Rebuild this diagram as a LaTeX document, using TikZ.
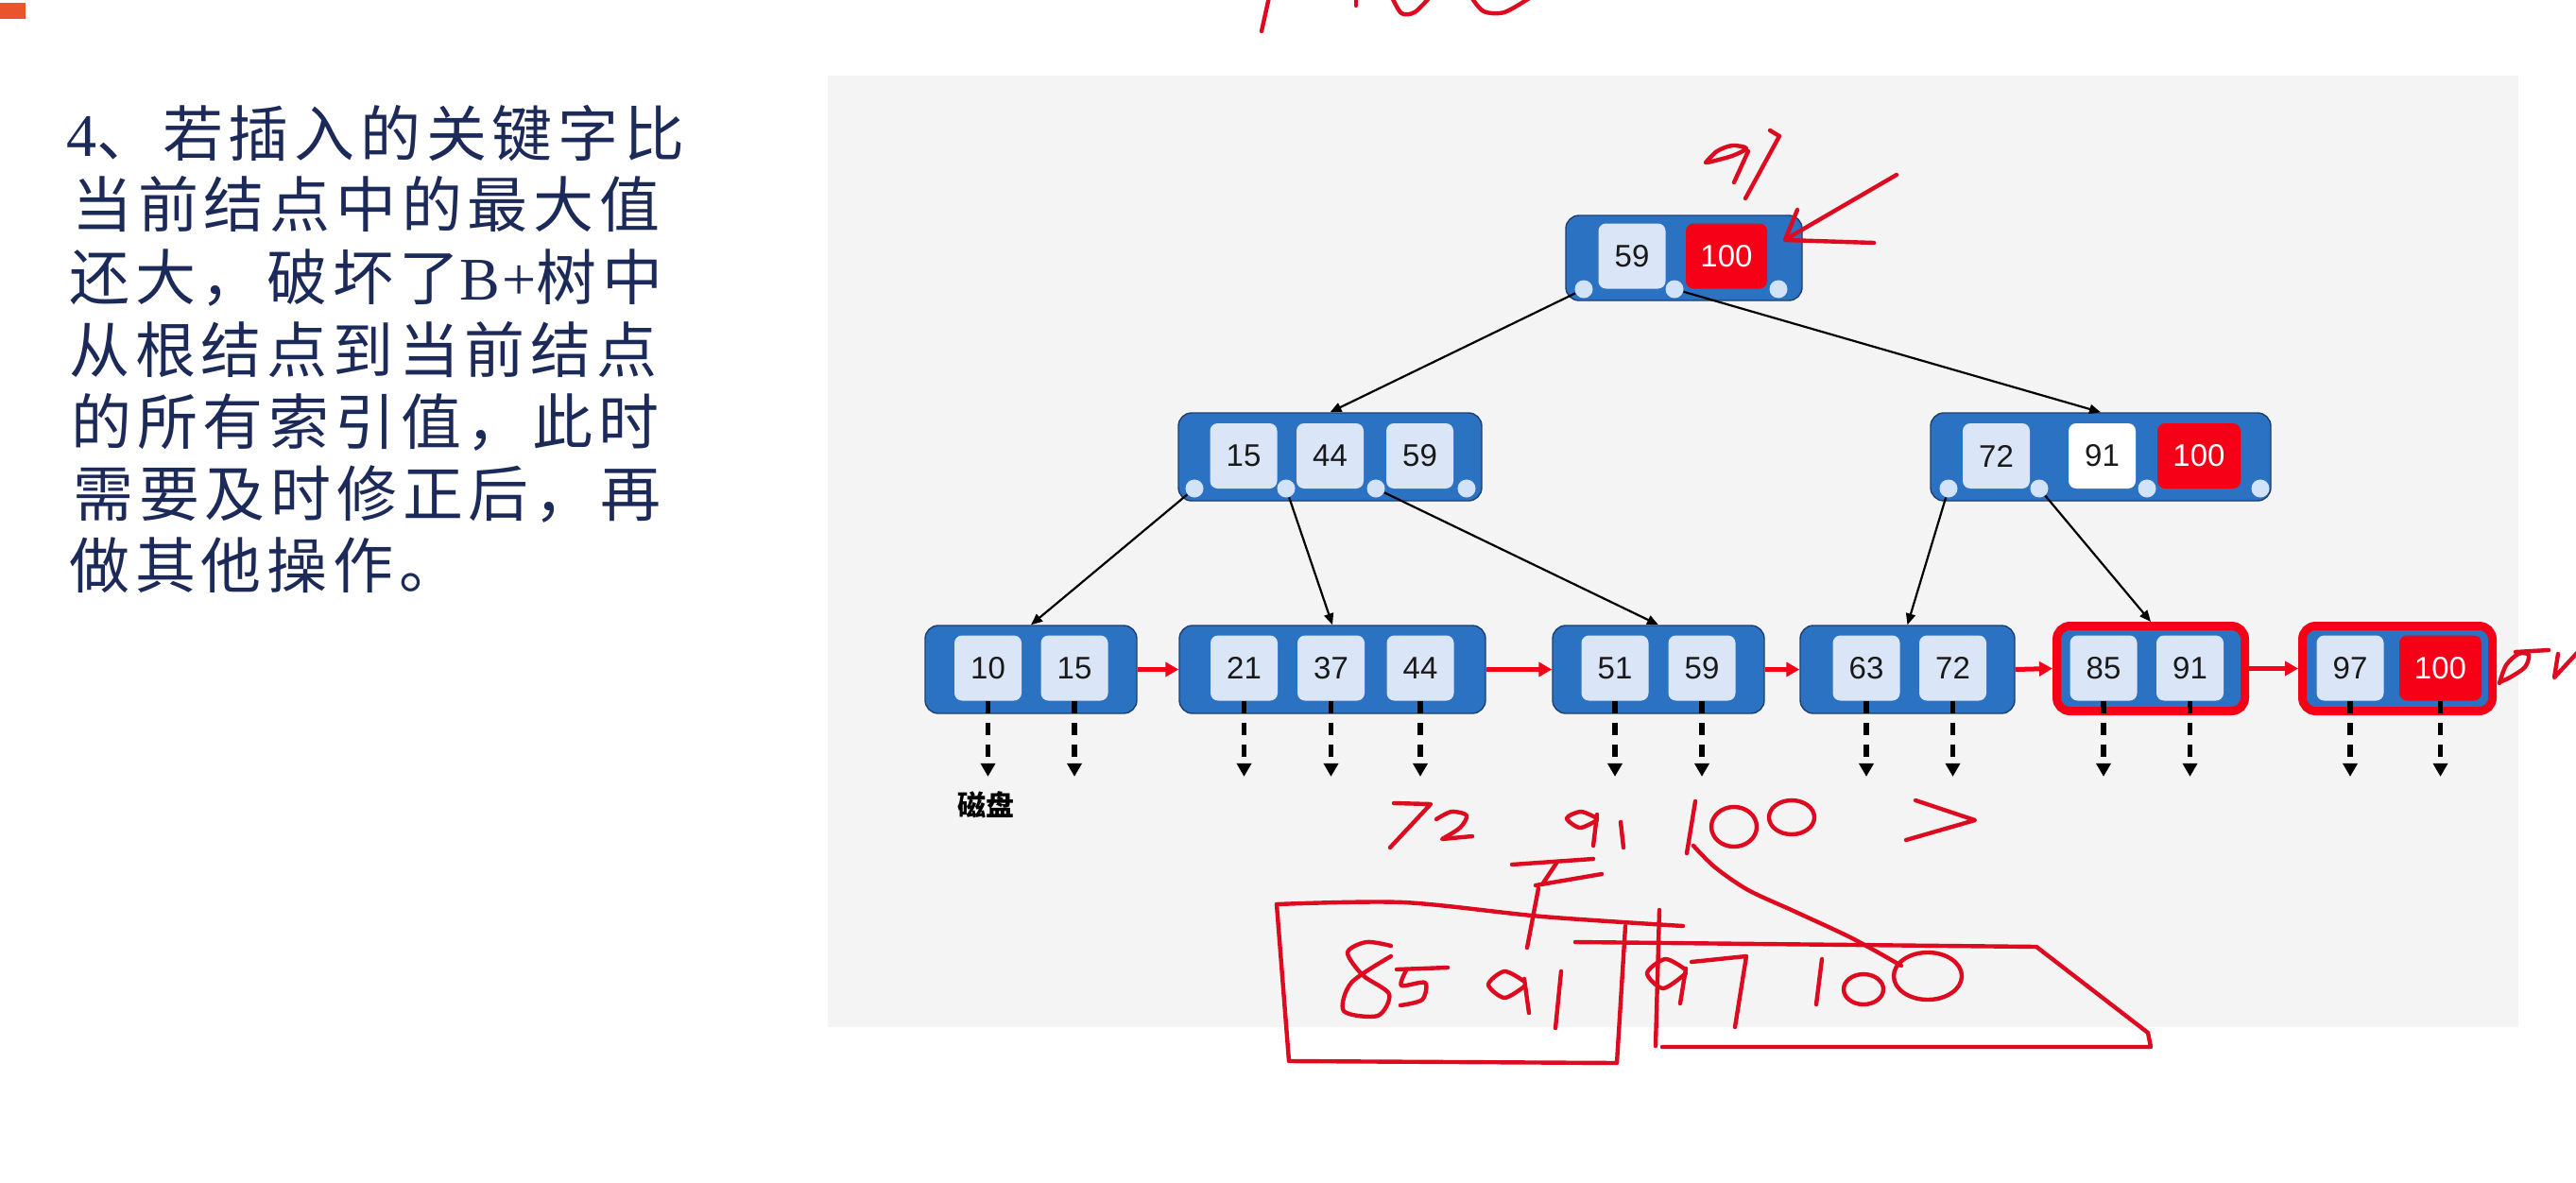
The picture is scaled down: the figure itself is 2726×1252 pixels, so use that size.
\documentclass[tikz,border=0pt]{standalone}
\usepackage{fontspec}
\setmainfont{Liberation Serif}
\newfontfamily\numfont{Liberation Sans}
\newfontfamily\cjkfont[LetterSpace=9]{Noto Sans CJK SC}
\newfontfamily\cjklabel{Noto Sans CJK SC}
\newfontfamily\serifwide[LetterSpace=4]{Liberation Serif}
\usetikzlibrary{arrows.meta}

\definecolor{panelgray}{RGB}{244,244,244}
\definecolor{nodeblue}{RGB}{44,114,194}
\definecolor{nodeedge}{RGB}{30,62,112}
\definecolor{cellblue}{RGB}{218,230,247}
\definecolor{portblue}{RGB}{210,226,248}
\definecolor{keyred}{RGB}{245,0,22}
\definecolor{inkred}{RGB}{222,10,32}
\definecolor{navytext}{RGB}{28,42,90}
\definecolor{tabmark}{RGB}{232,85,45}

\begin{document}
\begin{tikzpicture}[x=0.5pt,y=-0.5pt,
  box/.style={draw=nodeedge, line width=0.7pt, fill=nodeblue, rounded corners=7pt,
              minimum height=46.5pt, inner sep=0pt},
  hotleaf/.style={box, draw=keyred, line width=4.5pt, minimum height=45pt},
  keycell/.style={fill=cellblue, rounded corners=4pt, minimum height=34.5pt,
                  minimum width=35.5pt, inner sep=0pt,
                  font=\numfont\fontsize{16.5}{18}\selectfont, text=black!90},
  redcell/.style={keycell, fill=keyred, text=white},
  port/.style={circle, fill=portblue, minimum size=9.5pt, inner sep=0pt},
  link/.style={line width=1.1pt, -{Triangle[length=6pt,width=5pt]}},
  chain/.style={draw=keyred, line width=2.5pt, -{Triangle[length=7pt,width=7.5pt]}},
  disk/.style={line width=2.7pt, dash pattern=on 6.5pt off 5pt,
               -{Triangle[length=7pt,width=7.5pt]}},
  ink/.style={draw=inkred, line width=2.2pt, line cap=round, line join=round},
  para/.style={anchor=base west, inner sep=0pt, text=navytext,
               font=\cjkfont\fontsize{32}{32}\selectfont}
]
% canvas and grey panel
\fill[white] (0,0) rectangle (2726,1252);
\useasboundingbox (0,0) rectangle (2726,1252);
\fill[tabmark] (0,3) rectangle (27,20);
\fill[panelgray] (876,80) rectangle (2665,1087);

% explanatory paragraph
\node[para] (p1) at (70,165) {{\serifwide 4}、若插入的关键字比};
\node[para] (p2) at (76,241) {当前结点中的最大值};
\node[para] (p3) at (73,317) {还大，破坏了{\serifwide B+}树中};
\node[para] (p4) at (73,394) {从根结点到当前结点};
\node[para] (p5) at (75,470) {的所有索引值，此时};
\node[para] (p6) at (77,546) {需要及时修正后，再};
\node[para] (p7) at (73,622) {做其他操作。};

% root
\node[box, minimum width=125pt, minimum height=45pt] (root) at (1782,273) {};
\node[keycell] (r59) at (1727,271) {59};
\node[redcell, minimum width=43pt] (r100) at (1827,271) {100};
\node[port] (rp1) at (1676,306) {};
\node[port] (rp2) at (1772,306) {};
\node[port] (rp3) at (1882,306) {};

% left index node
\node[box, minimum width=160.5pt] (iL) at (1407.5,483.5) {};
\node[keycell] (iL15) at (1316,482.5) {15};
\node[keycell] (iL44) at (1407.5,482.5) {44};
\node[keycell] (iL59) at (1502.5,482.5) {59};
\node[port] (lp1) at (1264,517) {};
\node[port] (lp2) at (1361,517) {};
\node[port] (lp3) at (1456,517) {};
\node[port] (lp4) at (1552,517) {};

% right index node
\node[box, minimum width=180pt] (iR) at (2223,483.5) {};
\node[keycell] (iR72) at (2112.5,482.5) {72};
\node[keycell, fill=white] (iR91) at (2224.5,482.5) {91};
\node[redcell, minimum width=44pt] (iR100) at (2327,482.5) {100};
\node[port] (qp1) at (2062,517) {};
\node[port] (qp2) at (2158,517) {};
\node[port] (qp3) at (2272,517) {};
\node[port] (qp4) at (2392,517) {};

% leaves
\node[box, minimum width=112pt] (leaf1) at (1091,708.5) {};
\node[keycell] (a1) at (1045.5,707) {10};
\node[keycell] (a2) at (1137,707) {15};

\node[box, minimum width=162pt] (leaf2) at (1410,708.5) {};
\node[keycell] (b1) at (1316.5,707) {21};
\node[keycell] (b2) at (1408.5,707) {37};
\node[keycell] (b3) at (1503,707) {44};

\node[box, minimum width=112pt] (leaf3) at (1755,708.5) {};
\node[keycell] (c1) at (1709,707) {51};
\node[keycell] (c2) at (1801,707) {59};

\node[box, minimum width=113.5pt] (leaf4) at (2018.5,708.5) {};
\node[keycell] (d1) at (1975,707) {63};
\node[keycell] (d2) at (2066.5,707) {72};

\node[hotleaf, minimum width=99.5pt] (leaf5) at (2276,707.5) {};
\node[keycell] (e1) at (2226,707) {85};
\node[keycell] (e2) at (2317.5,707) {91};

\node[hotleaf, minimum width=100.5pt] (leaf6) at (2537,707.5) {};
\node[keycell] (f1) at (2487,707) {97};
\node[redcell, minimum width=43.5pt] (f2) at (2582.5,707) {100};

% parent to child pointers
\draw[link] (rp1) -- (iL.north);
\draw[link] (rp2) -- (iR.north);
\draw[link] (lp1) -- (leaf1.north);
\draw[link] (lp2) -- (leaf2.north);
\draw[link] (lp3) -- (leaf3.north);
\draw[link] (qp1) -- (leaf4.north);
\draw[link] (qp2) -- (leaf5.north);

% leaf chain
\draw[chain] (leaf1.east) -- (leaf2.west);
\draw[chain] (leaf2.east) -- (leaf3.west);
\draw[chain] (leaf3.east) -- (leaf4.west);
\draw[chain] (leaf4.east) -- (leaf5.west);
\draw[chain] (leaf5.east) -- (leaf6.west);

% record pointers to disk
\foreach \k in {a1,a2,b1,b2,b3,c1,c2,d1,d2,e1,e2,f1,f2}{
  \path (\k.south) ++(0,80) coordinate (\k-disk);
  \draw[disk] (\k.south) -- (\k-disk);
}
\node[font=\cjklabel\bfseries\fontsize{15}{15}\selectfont, inner sep=0pt] (disklabel) at (1043,852) {磁盘};

% handwritten notes: top edge
\draw[ink] (1343,-3) -- (1335,33);
\draw[ink] (1435,-3) -- (1435,6);
\draw[ink] plot[smooth] coordinates {(1473,-3) (1483,14) (1497,13) (1513,-3)};
\draw[ink] plot[smooth] coordinates {(1557,-3) (1570,12) (1592,13) (1620,-3)};

% "91" and arrow at the root
\draw[ink] plot[smooth] coordinates {(1805,172) (1817,160) (1833,154) (1848,157) (1833,165) (1807,172)};
\draw[ink] (1850,160) -- (1835,193);
\draw[ink] (1873,138) -- (1883,144) -- (1847,210);
\draw[ink] (2007,185) -- (1890,253);
\draw[ink] (1902,222) -- (1889,254) -- (1983,257);

% right edge scribble
\draw[ink] plot[smooth] coordinates {(2645,723) (2652,704) (2665,692) (2676,693) (2672,706) (2656,717) (2645,722)};
\draw[ink] (2662,690) -- (2697,688);
\draw[ink] (2707,692) -- (2703,717) -- (2728,690);

% "72 91 100 >"
\draw[ink] (1475,850) -- (1514,851) -- (1471,897);
\draw[ink] plot[smooth] coordinates {(1520,867) (1536,859) (1552,863) (1545,876) (1526,888)} -- (1558,885);
\draw[ink] plot[smooth] coordinates {(1690,866) (1673,859) (1658,866) (1672,876) (1690,868)};
\draw[ink] (1690,862) -- (1686,895);
\draw[ink] (1715,870) -- (1718,897);
\draw[ink] (1794,848) -- (1785,903);
\draw[ink] (1835,875) ellipse [x radius=24, y radius=21];
\draw[ink] (1896,865) ellipse [x radius=24, y radius=18];
\draw[ink] plot[smooth] coordinates {(1792,895) (1815,918) (1850,942) (1900,965) (1960,993) (2012,1022)};
\draw[ink] (2027,847) -- (2090,868) -- (2017,889);

% split mark
\draw[ink] (1600,915) -- (1686,909);
\draw[ink] (1648,912) -- (1632,936);
\draw[ink] (1625,937) -- (1695,925);
\draw[ink] (1628,940) -- (1616,1003);

% two new leaves
\draw[ink] plot[smooth] coordinates {(1351,957) (1485,955) (1632,970) (1781,980)};
\draw[ink] (1351,957) -- (1364,1123) -- (1711,1125) -- (1720,980);
\draw[ink] (1756,963) -- (1752,1107);
\draw[ink] (1667,997) -- (2155,1002) -- (2273,1093) -- (2276,1108) -- (1759,1108);

% "85 91"
\draw[ink] plot[smooth] coordinates {(1472,1001) (1446,997) (1426,1008) (1442,1032) (1470,1052) (1458,1075) (1422,1070) (1430,1040) (1472,1012)};
\draw[ink] (1478,1026) -- (1532,1024);
\draw[ink] plot[smooth] coordinates {(1488,1027) (1483,1043) (1508,1040) (1505,1058) (1482,1064)};
\draw[ink] plot[smooth] coordinates {(1612,1038) (1592,1028) (1575,1042) (1592,1056) (1613,1044)};
\draw[ink] (1613,1036) -- (1618,1072);
\draw[ink] (1652,1028) -- (1646,1088);

% "97 100"
\draw[ink] plot[smooth] coordinates {(1782,1025) (1762,1015) (1743,1030) (1760,1046) (1784,1030)};
\draw[ink] (1784,1025) -- (1778,1062);
\draw[ink] (1790,1018) -- (1848,1012) -- (1836,1087);
\draw[ink] (1928,1015) -- (1922,1063);
\draw[ink] (1972,1047) ellipse [x radius=21, y radius=16];
\draw[ink] (2040,1033) ellipse [x radius=36, y radius=25];
\end{tikzpicture}
\end{document}
